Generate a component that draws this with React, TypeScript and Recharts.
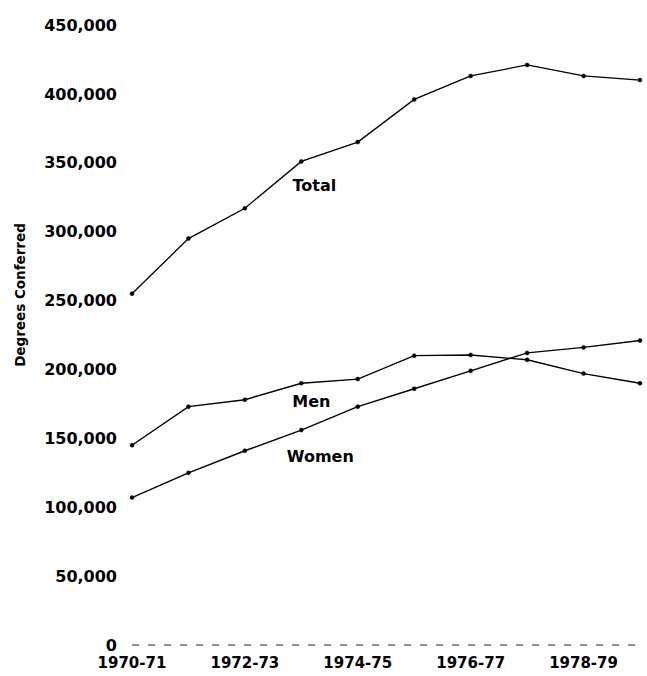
import React from 'react';
import { LineChart, Line, XAxis, YAxis } from 'recharts';

const categories = ['1970-71', '1971-72', '1972-73', '1973-74', '1974-75', '1975-76', '1976-77', '1977-78', '1978-79', '1979-80'];
const totalValues = [255000, 295000, 317000, 351000, 365000, 396000, 413000, 421000, 413000, 410000];
const menValues = [145000, 173000, 178000, 190000, 193000, 210000, 210500, 207000, 197000, 190000];
const womenValues = [107000, 125000, 141000, 156000, 173000, 186000, 199000, 212000, 216000, 221000];
const yTicks = [0, 50000, 100000, 150000, 200000, 250000, 300000, 350000, 400000, 450000];
const axisTitle = 'Degrees Conferred';
const seriesNames = { total: 'Total', men: 'Men', women: 'Women' };

const data = categories.map((year, i) => ({
  year,
  total: totalValues[i],
  men: menValues[i],
  women: womenValues[i],
}));

const FONT = "'DejaVu Sans', sans-serif";

const makeLabel = (text: string, labelIndex: number, dx: number, dy: number) => (props: any) => {
  const { x, y, index } = props;
  if (index !== labelIndex) return <g key={`l-${text}-${index}`} />;
  return (
    <text
      key={`l-${text}-${index}`}
      x={x + dx}
      y={y + dy}
      textAnchor="middle"
      dominantBaseline="central"
      fontFamily={FONT}
      fontWeight="bold"
      fontSize={16}
      fill="#000"
    >
      {text}
    </text>
  );
};

const dotStyle = { r: 2, fill: '#000', stroke: '#000', strokeWidth: 0.5 };

export default function App() {
  return (
    <div style={{ position: 'absolute', left: 0, top: 0, width: 647, height: 676, background: '#fff' }}>
      <LineChart width={647} height={676} data={data} margin={{ top: 25, right: 7, bottom: 0, left: 0 }}>
        <XAxis
          dataKey="year"
          interval={1}
          height={31}
          tickSize={0}
          tickMargin={12}
          axisLine={{ stroke: '#222', strokeWidth: 1, strokeDasharray: '7 9' }}
          tickLine={false}
          tick={{ fontFamily: FONT, fontWeight: 'bold', fontSize: 15, fill: '#000' }}
        />
        <YAxis
          domain={[0, 450000]}
          ticks={yTicks}
          interval={0}
          width={132}
          tickSize={0}
          tickMargin={15}
          axisLine={false}
          tickLine={false}
          tickFormatter={(v: number) => v.toLocaleString('en-US')}
          tick={{ fontFamily: FONT, fontWeight: 'bold', fontSize: 16, fill: '#000' }}
          label={{
            value: axisTitle,
            content: () => (
              <text
                x={20}
                y={295}
                transform="rotate(-90 20 295)"
                textAnchor="middle"
                dominantBaseline="central"
                fontFamily={FONT}
                fontWeight="bold"
                fontSize={13.5}
                fill="#000"
              >
                {axisTitle}
              </text>
            ),
          }}
        />
        <Line
          type="linear"
          dataKey="total"
          stroke="#000"
          strokeWidth={1.3}
          dot={dotStyle}
          isAnimationActive={false}
          label={makeLabel(seriesNames.total, 3, 13, 24)}
        />
        <Line
          type="linear"
          dataKey="men"
          stroke="#000"
          strokeWidth={1.4}
          dot={dotStyle}
          isAnimationActive={false}
          label={makeLabel(seriesNames.men, 3, 10, 18)}
        />
        <Line
          type="linear"
          dataKey="women"
          stroke="#000"
          strokeWidth={1.4}
          dot={dotStyle}
          isAnimationActive={false}
          label={makeLabel(seriesNames.women, 3, 19, 26)}
        />
      </LineChart>
    </div>
  );
}
